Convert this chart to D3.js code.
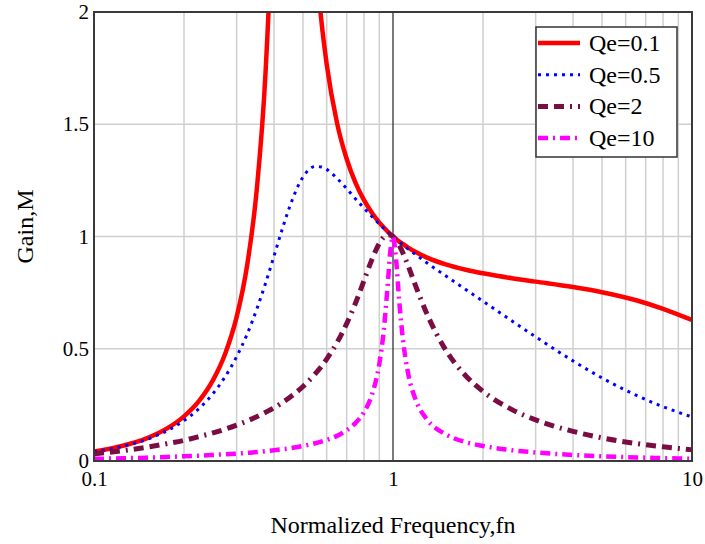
<!DOCTYPE html>
<html>
<head>
<meta charset="utf-8">
<script src="https://cdn.jsdelivr.net/npm/d3@7"></script>
<style>
  body { margin: 0; background: #fff; }
  text { font-family: "Liberation Serif", "Times New Roman", serif; fill: #000; }
</style>
</head>
<body>
<div class="chart"></div>
<script>
var svgWidth = 705;
var svgHeight = 544;

var margin = { top: 12, right: 13, bottom: 83, left: 94 };
var width = svgWidth - margin.left - margin.right;
var height = svgHeight - margin.top - margin.bottom;

// normalized frequency samples and gain
var fn = [0.1, 0.125, 0.15, 0.175, 0.2, 0.225, 0.25, 0.275, 0.3, 0.325, 0.35, 0.375, 0.4, 0.425, 0.45,
  0.5, 0.55, 0.575, 0.6, 0.65, 0.7, 0.75, 0.8, 0.85, 0.9, 0.93, 0.96, 0.98, 1, 1.02, 1.05, 1.08, 1.12,
  1.2, 1.3, 1.5, 1.75, 2, 2.5, 3, 4, 5, 6.5, 8, 10];

var gainQ01 = [0.042, 0.068, 0.101, 0.144, 0.199, 0.269, 0.360, 0.480, 0.642, 0.869, 1.205, 1.738, 2.656, 4.259, 5.62,
  3.430, 2.262, 1.971, 1.768, 1.505, 1.345, 1.238, 1.162, 1.106, 1.062, 1.041, 1.022, 1.010, 1, 0.990, 0.977, 0.966, 0.952,
  0.929, 0.906, 0.876, 0.852, 0.836, 0.814, 0.799, 0.775, 0.752, 0.716, 0.678, 0.628];

var gainQ05 = [0.041, 0.066, 0.096, 0.134, 0.180, 0.235, 0.300, 0.377, 0.465, 0.564, 0.675, 0.793, 0.913, 1.028, 1.128,
  1.265, 1.312, 1.310, 1.299, 1.259, 1.213, 1.167, 1.126, 1.089, 1.056, 1.038, 1.021, 1.010, 1, 0.990, 0.976, 0.963, 0.946,
  0.916, 0.882, 0.825, 0.764, 0.712, 0.624, 0.553, 0.446, 0.370, 0.293, 0.242, 0.196];

var gainQ2 = [0.032, 0.046, 0.061, 0.077, 0.092, 0.109, 0.125, 0.142, 0.160, 0.178, 0.197, 0.217, 0.237, 0.259, 0.282,
  0.332, 0.389, 0.420, 0.454, 0.528, 0.612, 0.705, 0.804, 0.897, 0.969, 0.996, 1.008, 1.007, 1, 0.987, 0.960, 0.926, 0.874,
  0.768, 0.654, 0.495, 0.380, 0.310, 0.229, 0.183, 0.132, 0.103, 0.078, 0.063, 0.050];

var gainQ10 = [0.010, 0.012, 0.015, 0.018, 0.021, 0.024, 0.027, 0.030, 0.033, 0.036, 0.040, 0.044, 0.048, 0.052, 0.056,
  0.067, 0.079, 0.086, 0.094, 0.112, 0.137, 0.170, 0.218, 0.295, 0.433, 0.574, 0.785, 0.935, 1, 0.922, 0.707, 0.539, 0.400,
  0.262, 0.185, 0.119, 0.084, 0.067, 0.048, 0.038, 0.027, 0.021, 0.016, 0.013, 0.010];

var seriesNames = ["Qe=0.1", "Qe=0.5", "Qe=2", "Qe=10"];
var xTicks = [0.1, 1, 10];
var yTicks = [0, 0.5, 1, 1.5, 2];
var xGrid = [0.2, 0.3, 0.4, 0.5, 0.6, 0.7, 0.8, 0.9, 2, 3, 4, 5, 6, 7, 8, 9];
var yGrid = [0.5, 1, 1.5];

var styles = [
  { color: "#ff0000", width: 4.5, dash: null },
  { color: "#0000ff", width: 3, dash: "3,5" },
  { color: "#7b0d45", width: 5, dash: "10,6,10,6,2,6" },
  { color: "#ff00ff", width: 4.5, dash: "10,5,2,5" }
];

var series = [gainQ01, gainQ05, gainQ2, gainQ10].map(function(g, i) {
  return { name: seriesNames[i], values: fn.map(function(f, j) { return { f: f, m: g[j] }; }) };
});

var svg = d3.select(".chart")
  .append("svg")
  .attr("width", svgWidth)
  .attr("height", svgHeight);

var chartGroup = svg.append("g")
  .attr("transform", `translate(${margin.left}, ${margin.top})`);

var xScale = d3.scaleLog().domain([0.1, 10]).range([0, width]);
var yScale = d3.scaleLinear().domain([0, 2]).range([height, 0]);

svg.append("defs").append("clipPath").attr("id", "plotClip")
  .append("rect").attr("width", width).attr("height", height);

// grid
chartGroup.selectAll(".vgrid").data(xGrid).enter().append("line")
  .attr("x1", d => xScale(d)).attr("x2", d => xScale(d))
  .attr("y1", 0).attr("y2", height)
  .attr("stroke", "#cfcfcf").attr("stroke-width", 1.5);

chartGroup.selectAll(".hgrid").data(yGrid).enter().append("line")
  .attr("x1", 0).attr("x2", width)
  .attr("y1", d => yScale(d)).attr("y2", d => yScale(d))
  .attr("stroke", "#cfcfcf").attr("stroke-width", 1.5);

// the marker at fn = 1
chartGroup.append("line")
  .attr("x1", xScale(1)).attr("x2", xScale(1))
  .attr("y1", 0).attr("y2", height)
  .attr("stroke", "#222").attr("stroke-width", 1.2);

// curves
var line = d3.line()
  .x(d => xScale(d.f))
  .y(d => yScale(d.m))
  .curve(d3.curveMonotoneX);

chartGroup.append("g").attr("clip-path", "url(#plotClip)")
  .selectAll("path").data(series).enter().append("path")
  .attr("d", d => line(d.values))
  .attr("fill", "none")
  .attr("stroke", (d, i) => styles[i].color)
  .attr("stroke-width", (d, i) => styles[i].width)
  .attr("stroke-dasharray", (d, i) => styles[i].dash)
  .attr("stroke-linecap", (d, i) => i === 0 ? "butt" : "butt");

// frame
chartGroup.append("rect")
  .attr("width", width).attr("height", height)
  .attr("fill", "none").attr("stroke", "#3a3a3a").attr("stroke-width", 2);

// axes
var bottomAxis = d3.axisBottom(xScale).tickValues(xTicks).tickSize(0).tickPadding(10)
  .tickFormat(d => String(d));
var leftAxis = d3.axisLeft(yScale).tickValues(yTicks).tickSize(0).tickPadding(5)
  .tickFormat(d => String(d));

var xAxisG = chartGroup.append("g")
  .attr("transform", `translate(0, ${height})`)
  .call(bottomAxis);
xAxisG.select(".domain").remove();
xAxisG.selectAll("text").attr("font-size", "21px").attr("font-family", "Liberation Serif").attr("fill", "#000");

var yAxisG = chartGroup.append("g").call(leftAxis);
yAxisG.select(".domain").remove();
yAxisG.selectAll("text").attr("font-size", "21px").attr("font-family", "Liberation Serif").attr("fill", "#000");

// axis titles
chartGroup.append("text")
  .attr("transform", `translate(${xScale(1)}, ${height + 72})`)
  .attr("text-anchor", "middle")
  .attr("font-size", "24px")
  .text("Normalized Frequency,fn");

chartGroup.append("text")
  .attr("transform", `rotate(-90) translate(${-height / 2 + 10}, ${-margin.left + 33})`)
  .attr("text-anchor", "middle")
  .attr("font-size", "24px")
  .text("Gain,M");

// legend
var legend = svg.append("g").attr("transform", "translate(536, 27)");
legend.append("rect")
  .attr("width", 141).attr("height", 130)
  .attr("fill", "#fff").attr("stroke", "#333").attr("stroke-width", 1.5);

var rows = legend.selectAll(".row").data(seriesNames).enter().append("g")
  .attr("transform", (d, i) => `translate(0, ${16 + i * 31.7})`);

rows.append("line")
  .attr("x1", 2).attr("x2", 44)
  .attr("stroke", (d, i) => styles[i].color)
  .attr("stroke-width", (d, i) => styles[i].width)
  .attr("stroke-dasharray", (d, i) => styles[i].dash);

rows.append("text")
  .attr("x", 53).attr("y", 8)
  .attr("font-size", "24px")
  .text(d => d);
</script>
</body>
</html>
